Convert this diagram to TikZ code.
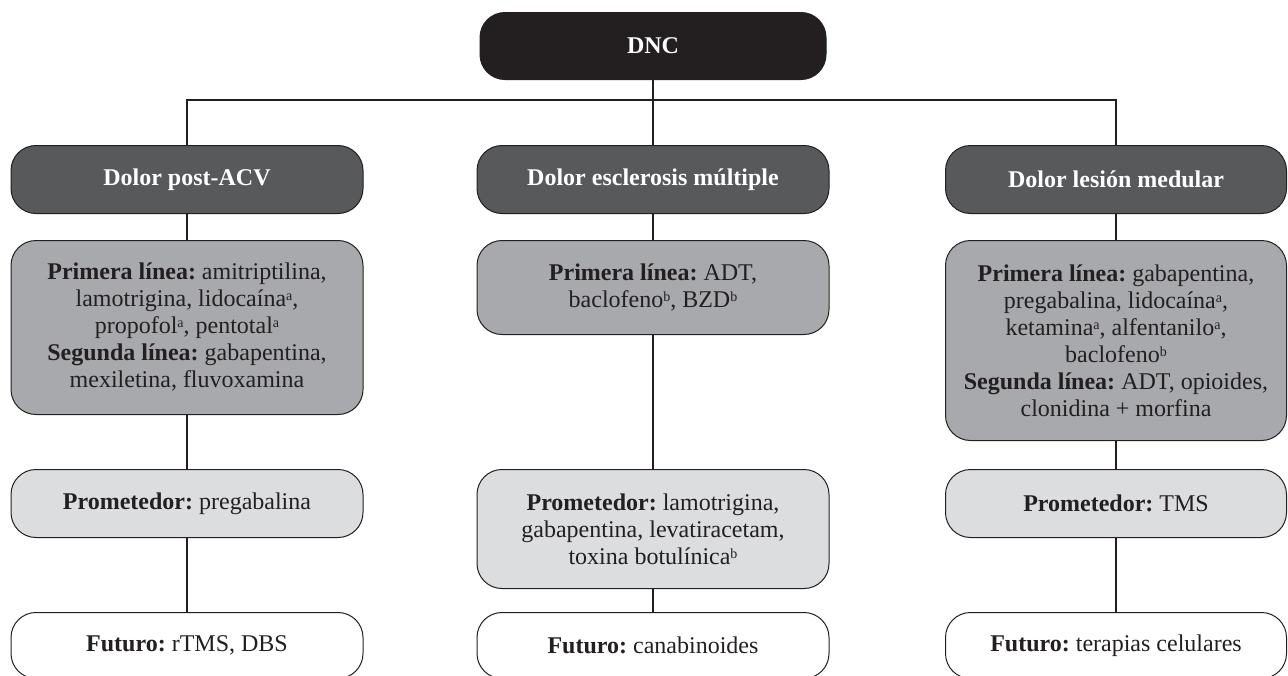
\documentclass[tikz,border=0pt]{standalone}
\usepackage{fontspec}
\setmainfont{Liberation Serif}
\usepackage{tikz}

\definecolor{inkblack}{HTML}{231F20}
\definecolor{catgray}{HTML}{58595B}
\definecolor{linegray}{HTML}{A7A9AC}
\definecolor{promgray}{HTML}{DCDDDF}
\newcommand{\bodyfont}{\fontsize{24}{27}\selectfont\frenchspacing}
\newcommand{\noteref}[1]{\raisebox{0.55ex}{\fontsize{14}{14}\selectfont #1}}

\begin{document}
\begin{tikzpicture}[x=1pt,y=-1pt,
	box/.style={draw=inkblack, line width=1pt, rounded corners=25pt, anchor=north,
		align=center, inner sep=4pt, font=\bodyfont, text=inkblack},
	rootbox/.style={box, fill=inkblack, text=white, font=\bodyfont\bfseries,
		minimum width=346pt, minimum height=67pt},
	catbox/.style={box, fill=catgray, text=white, font=\bodyfont\bfseries, minimum height=68pt},
	linebox/.style={box, fill=linegray},
	prombox/.style={box, fill=promgray},
	futbox/.style={box, fill=white, minimum height=66pt},
	link/.style={draw=inkblack, line width=1.8pt}]
	\useasboundingbox (0,0) rectangle (1288,675);
	% Root
	\node[rootbox] (dnc) at (653,12) {DNC};
	% Pain types
	\foreach \x/\w/\c/\txt in {187/352/l/Dolor post-ACV, 653/352/m/Dolor esclerosis múltiple,
		1116/341/r/Dolor lesión medular}
		\node[catbox, minimum width=\w pt] (cat\c) at (\x,145) {\txt};
	% First and second line
	\node[linebox, minimum width=352pt, minimum height=174pt] (firstl) at (187,240)
		{\textbf{Primera línea:} amitriptilina,\\ lamotrigina, lidocaína\noteref{a},\\
		propofol\noteref{a}, pentotal\noteref{a}\\
		\textbf{Segunda línea:} gabapentina,\\ mexiletina, fluvoxamina};
	\node[linebox, minimum width=352pt, minimum height=94pt] (firstm) at (653,240)
		{\textbf{Primera línea:} ADT,\\ baclofeno\noteref{b}, BZD\noteref{b}};
	\node[linebox, minimum width=341pt, minimum height=200pt] (firstr) at (1116,240)
		{\textbf{Primera línea:} gabapentina,\\ pregabalina, lidocaína\noteref{a},\\
		ketamina\noteref{a}, alfentanilo\noteref{a},\\ baclofeno\noteref{b}\\
		\textbf{Segunda línea:} ADT, opioides,\\ clonidina + morfina};
	% Promising
	\node[prombox, minimum width=352pt, minimum height=68pt] (proml) at (187,469)
		{\textbf{Prometedor:} pregabalina};
	\node[prombox, minimum width=352pt, minimum height=119pt] (promm) at (653,469)
		{\textbf{Prometedor:} lamotrigina,\\ gabapentina, levatiracetam,\\
		toxina botulínica\noteref{b}};
	\node[prombox, minimum width=341pt, minimum height=68pt] (promr) at (1116,469)
		{\textbf{Prometedor:} TMS};
	% Future
	\node[futbox, minimum width=352pt] (futl) at (187,612) {\textbf{Futuro:} rTMS, DBS};
	\node[futbox, minimum width=352pt] (futm) at (653,612) {\textbf{Futuro:} canabinoides};
	\node[futbox, minimum width=341pt] (futr) at (1116,612) {\textbf{Futuro:} terapias celulares};
	% Connectors
	\coordinate (bus) at (653,100);
	\draw[link] (dnc) -- (catm);
	\draw[link] (catl) |- (bus) -| (catr);
	\foreach \c in {l,m,r}
		\draw[link] (cat\c) -- (first\c) -- (prom\c) -- (fut\c);
\end{tikzpicture}
\end{document}
